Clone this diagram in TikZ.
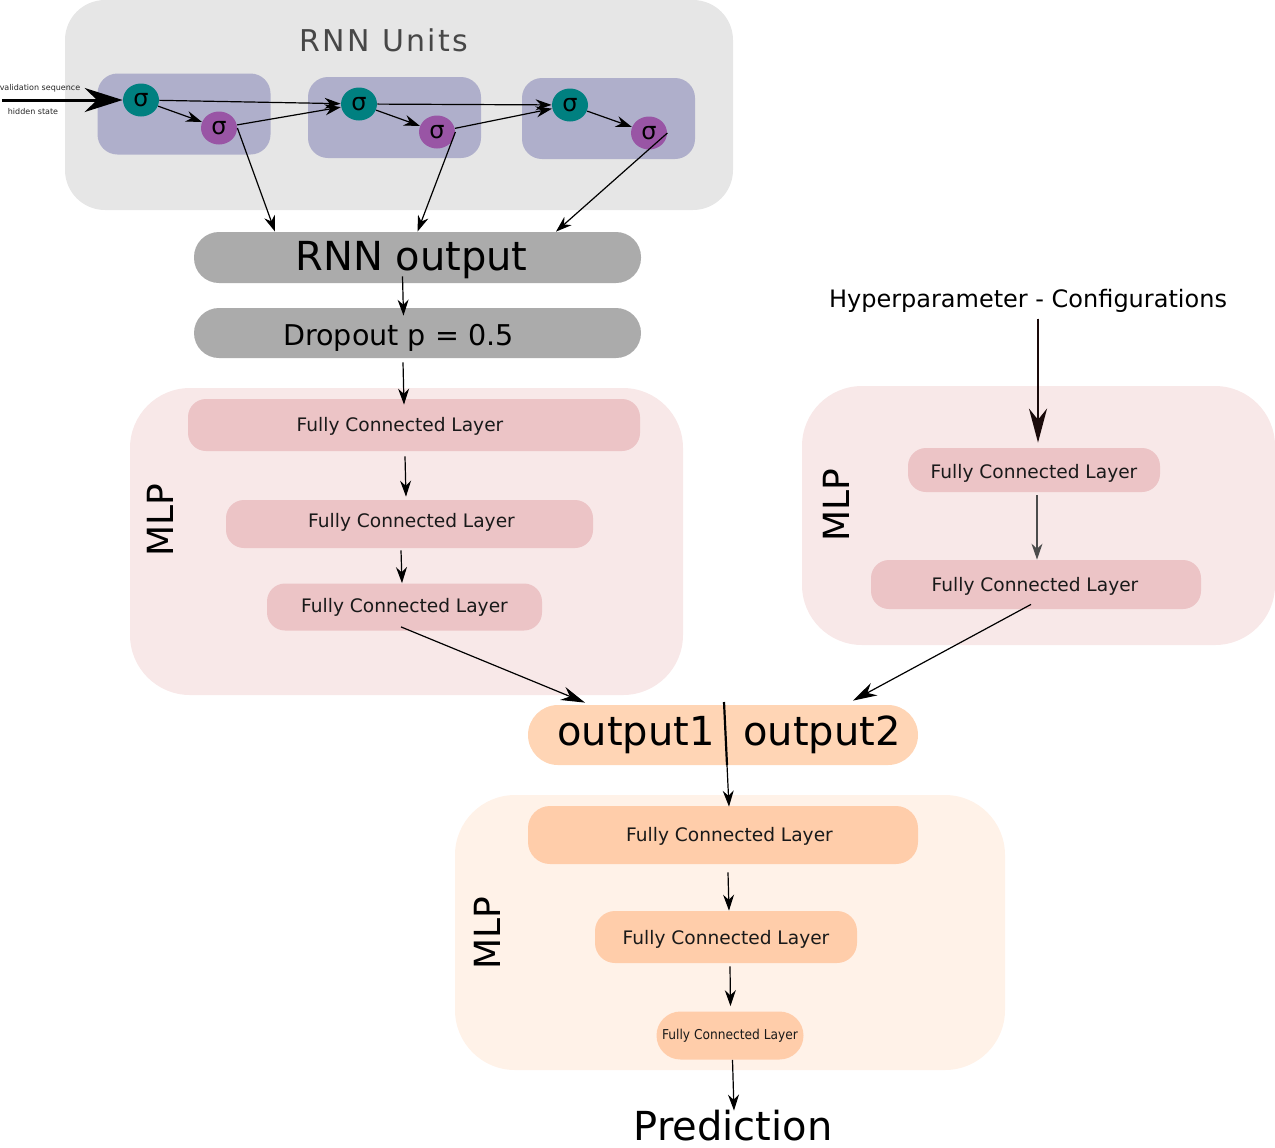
\documentclass[tikz,border=0pt]{standalone}
\usepackage{fontspec}
\setmainfont{DejaVu Sans}
\newfontfamily\spacedfont[LetterSpace=8]{DejaVu Sans}
\newfontfamily\narrowfont{DejaVu Sans Condensed}
\usetikzlibrary{arrows.meta, shapes.geometric}
\definecolor{rnngrey}{HTML}{E6E6E6}
\definecolor{unitblue}{HTML}{AFAFCB}
\definecolor{gateteal}{HTML}{008080}
\definecolor{gatepurple}{HTML}{9955A5}
\definecolor{outgrey}{HTML}{ABABAB}
\definecolor{mlprose}{HTML}{F8E8E8}
\definecolor{layerrose}{HTML}{ECC4C6}
\definecolor{mlppeach}{HTML}{FFF2E8}
\definecolor{layerpeach}{HTML}{FFCDAA}
\definecolor{mergepeach}{HTML}{FFD5B5}
\definecolor{inkdark}{HTML}{1A0A0A}
\tikzset{
    panel/.style      = {rounded corners=30pt, inner sep=0pt},
    unitbox/.style    = {fill=unitblue, rounded corners=10pt, inner sep=0pt,
                         minimum width=86.5pt, minimum height=40.5pt},
    gate/.style       = {ellipse, inner sep=0pt, minimum width=18pt, minimum height=16.5pt,
                         font=\fontsize{12}{12}\selectfont},
    greybar/.style    = {fill=outgrey, rounded corners=12.5pt, inner sep=0pt,
                         minimum width=223.5pt},
    roselayer/.style  = {fill=layerrose, rounded corners=9pt, inner sep=0pt,
                         font=\fontsize{9.3}{11}\selectfont, text=black!90},
    peachlayer/.style = {fill=layerpeach, rounded corners=11pt, inner sep=0pt,
                         font=\fontsize{9.3}{11}\selectfont, text=black!90},
    fctext/.style     = {font=\fontsize{9.3}{11}\selectfont, text=black!90},
    mlplabel/.style   = {rotate=90, font=\fontsize{18}{18}\selectfont},
    bigtext/.style    = {font=\fontsize{20}{20}\selectfont},
    tinytext/.style   = {font=\fontsize{4}{4}\selectfont, text=black!85},
    link/.style       = {-{Stealth[length=8pt, width=5.5pt]}, line width=0.6pt},
    joinlink/.style   = {-{Stealth[length=12pt, width=7pt]}, line width=0.6pt},
    inarrow/.style    = {-{Stealth[length=19pt, width=12pt]}, line width=1.5pt},
    hyperlink/.style  = {-{Stealth[length=17pt, width=9pt]}, line width=1pt, draw=inkdark, fill=inkdark},
    divider/.style    = {line width=1.1pt}
}
\begin{document}
\begin{tikzpicture}[x=0.5pt, y=-0.5pt]
    \useasboundingbox (0,0) rectangle (1275,1147);

    % RNN units
    \node[panel, fill=rnngrey, rounded corners=20pt, minimum width=334pt, minimum height=105pt] (rnnbg) at (399,105) {};
    \node[text=black!72, font=\fontsize{15}{15}\spacedfont] (rnntitle) at (384,40) {RNN Units};
    \node[unitbox] (unit1) at (184,114) {};
    \node[unitbox] (unit2) at (394.5,117.5) {};
    \node[unitbox] (unit3) at (608.5,118.5) {};
    \node[gate, fill=gateteal] (h1) at (141,100) {σ};
    \node[gate, fill=gateteal] (h2) at (359,104) {σ};
    \node[gate, fill=gateteal] (h3) at (570,105) {σ};
    \node[gate, fill=gatepurple] (s1) at (219,128) {σ};
    \node[gate, fill=gatepurple] (s2) at (437,132) {σ};
    \node[gate, fill=gatepurple] (s3) at (649,133) {σ};
    \node[tinytext] (seqlbl) at (40,88) {validation sequence};
    \node[tinytext] (hidlbl) at (33,112) {hidden state};
    \coordinate (seqin) at (2,100);

    \draw[inarrow] (seqin) -- (h1);
    \draw[link] (h1) -- (s1);
    \draw[link] (h1) -- (h2);
    \draw[link] (s1) -- (h2);
    \draw[link] (h2) -- (s2);
    \draw[link] (h2) -- (h3);
    \draw[link] (s2) -- (h3);
    \draw[link] (h3) -- (s3);

    % RNN output and dropout
    \node[greybar, minimum height=25.5pt, label={[bigtext, xshift=-3pt, yshift=-1.5pt]center:RNN output}] (rnnout) at (417.5,257.5) {};
    \node[greybar, minimum height=25pt, label={[font=\fontsize{14.3}{15}\selectfont, xshift=-9.5pt, yshift=-2.5pt]center:Dropout p = 0.5}] (dropout) at (417.5,333) {};

    \draw[link] (s1.east) -- ([xshift=-71.25pt]rnnout.north);
    \draw[link] (s2.east) -- (rnnout.north);
    \draw[link] (s3.east) -- ([xshift=69.25pt]rnnout.north);
    \draw[link] ([xshift=-7.5pt, yshift=3.5pt]rnnout.south) -- ([xshift=-7pt, yshift=-4pt]dropout.north);

    % left MLP
    \node[panel, fill=mlprose, minimum width=276.5pt, minimum height=153.5pt] (mlpleft) at (406.5,541.5) {};
    \node[mlplabel] (mlpleftlbl) at (160,520) {MLP};
    \node[roselayer, minimum width=226pt, minimum height=26pt,
          label={[fctext, xshift=-7pt, yshift=-0.5pt]center:Fully Connected Layer}] (fcl1) at (414,425) {};
    \node[roselayer, minimum width=183.5pt, minimum height=24pt,
          label={[fctext, xshift=1pt, yshift=1pt]center:Fully Connected Layer}] (fcl2) at (409.5,524) {};
    \node[roselayer, minimum width=137.5pt, minimum height=23.5pt] (fcl3) at (404.5,607) {Fully Connected Layer};

    \draw[link] ([xshift=-7.25pt, yshift=-2pt]dropout.south) -- ([xshift=-5pt, yshift=-3pt]fcl1.north);
    \draw[link] ([xshift=-4.5pt, yshift=-2.5pt]fcl1.south) -- ([xshift=-1.75pt, yshift=1.5pt]fcl2.north);
    \draw[link] ([xshift=-4.25pt, yshift=-1pt]fcl2.south) -- ([xshift=-1.25pt]fcl3.north);

    % right MLP
    \node[font=\fontsize{12}{12}\selectfont] (hyper) at (1028,301) {Hyperparameter - Configurations};
    \node[panel, fill=mlprose, minimum width=236.5pt, minimum height=129.5pt] (mlpright) at (1038.5,515.5) {};
    \node[mlplabel] (mlprightlbl) at (836,505) {MLP};
    \node[roselayer, minimum width=126pt, minimum height=22pt,
          label={[fctext, yshift=-1.5pt]center:Fully Connected Layer}] (fcr1) at (1034,470) {};
    \node[roselayer, minimum width=165pt, minimum height=24.5pt,
          label={[fctext, xshift=-0.5pt, yshift=-1pt]center:Fully Connected Layer}] (fcr2) at (1036,584.5) {};

    \draw[hyperlink] ([xshift=5pt, yshift=0.5pt]hyper.south) -- ([xshift=2pt, yshift=2.5pt]fcr1.north);
    \draw[link, draw=black!70] ([xshift=1.5pt, yshift=-1.5pt]fcr1.south) -- ([xshift=0.5pt]fcr2.north);

    % merged outputs
    \node[panel, fill=mergepeach, rounded corners=15pt, minimum width=195pt, minimum height=30pt] (merge) at (723,735) {};
    \node[bigtext] (out1) at (636,735) {output1};
    \node[bigtext] (out2) at (822,735) {output2};
    \coordinate (splittop) at (724,702);
    \coordinate (splitbot) at (727,765);

    \draw[joinlink] ([xshift=-1.75pt, yshift=2pt]fcl3.south) -- ([xshift=-69pt, yshift=1pt]merge.north);
    \draw[joinlink] ([xshift=-2.5pt, yshift=2.5pt]fcr2.south) -- ([xshift=65pt, yshift=2pt]merge.north);
    \draw[divider] (splittop) -- (splitbot);

    % bottom MLP
    \node[panel, fill=mlppeach, minimum width=275pt, minimum height=137.5pt] (mlpbottom) at (730,932.5) {};
    \node[mlplabel] (mlpbottomlbl) at (487,933) {MLP};
    \node[peachlayer, minimum width=195pt, minimum height=29pt,
          label={[fctext, xshift=3.25pt, yshift=-0.5pt]center:Fully Connected Layer}] (fcb1) at (723,835) {};
    \node[peachlayer, rounded corners=10pt, minimum width=131pt, minimum height=26pt,
          label={[fctext, yshift=-1pt]center:Fully Connected Layer}] (fcb2) at (726,937) {};
    \node[peachlayer, rounded corners=12pt, minimum width=73.5pt, minimum height=24pt,
          font=\narrowfont\fontsize{6.8}{9}\selectfont] (fcb3) at (730,1035.5) {Fully Connected Layer};
    \node[bigtext, anchor=base] (pred) at (733,1140) {Prediction};

    \draw[link] (splitbot) -- ([xshift=3pt, yshift=-0.5pt]fcb1.north);
    \draw[link] ([xshift=2.5pt, yshift=-4pt]fcb1.south) -- ([xshift=1.5pt]fcb2.north);
    \draw[link] ([xshift=2pt, yshift=-1.5pt]fcb2.south) -- ([xshift=0.25pt, yshift=2.5pt]fcb3.north);
    \draw[link] ([xshift=1.25pt]fcb3.south) -- ([xshift=0.5pt, yshift=-4pt]pred.north);
\end{tikzpicture}
\end{document}
